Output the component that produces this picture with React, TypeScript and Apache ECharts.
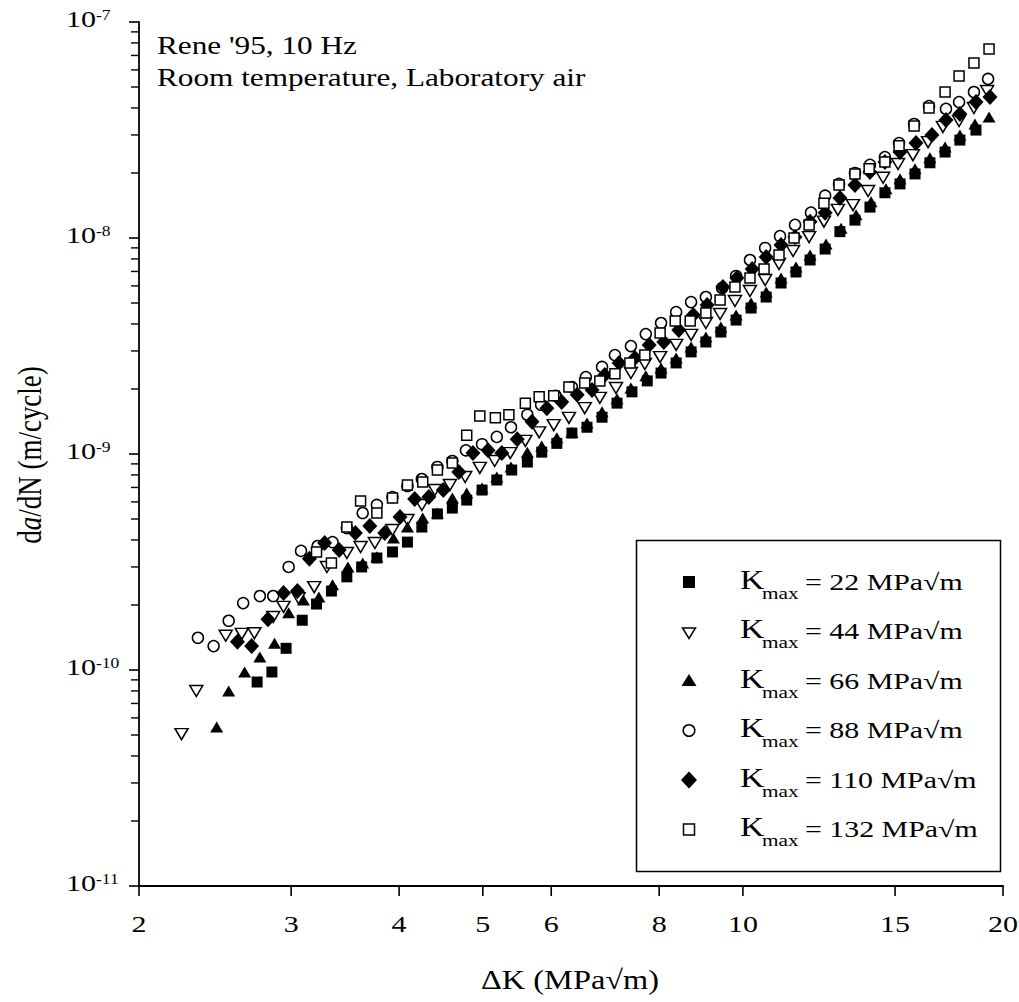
import React, { useEffect, useRef } from 'react';
import * as echarts from 'echarts';

const FONT = "'Liberation Serif', 'Times New Roman', Times, serif";
const SX = 1.25;

// Axis ticks
const xTicks = [2, 3, 4, 5, 6, 8, 10, 15, 20];
const yDecades = [1e-11, 1e-10, 1e-9, 1e-8, 1e-7];
const yDecadeExp = ['-11', '-10', '-9', '-8', '-7'];
const yMinorMantissas = [2, 3, 4, 5, 6, 7, 8, 9];

// Series data: [ΔK (MPa√m), da/dN (m/cycle)]
const k22: [number, number][] = [
  [2.74, 8.8e-11], [2.85, 9.79e-11], [2.96, 1.26e-10], [3.09, 1.7e-10], [3.21, 2.02e-10], [3.34, 2.32e-10],
  [3.48, 2.7e-10], [3.62, 3.0e-10], [3.77, 3.3e-10], [3.93, 3.52e-10], [4.09, 3.91e-10], [4.25, 4.59e-10],
  [4.43, 5.28e-10], [4.61, 5.62e-10], [4.79, 6.12e-10], [4.99, 6.81e-10], [5.19, 7.58e-10], [5.4, 8.43e-10],
  [5.63, 9.18e-10], [5.85, 1.02e-9], [6.09, 1.12e-9], [6.34, 1.25e-9], [6.6, 1.33e-9], [6.87, 1.48e-9],
  [7.15, 1.72e-9], [7.44, 1.94e-9], [7.75, 2.18e-9], [8.04, 2.37e-9], [8.37, 2.64e-9], [8.71, 2.97e-9],
  [9.06, 3.3e-9], [9.43, 3.67e-9], [9.82, 4.17e-9], [10.22, 4.74e-9], [10.64, 5.33e-9], [11.07, 6.19e-9],
  [11.52, 6.96e-9], [11.96, 7.91e-9], [12.45, 8.89e-9], [12.95, 1.07e-8], [13.48, 1.21e-8], [14.03, 1.39e-8],
  [14.6, 1.62e-8], [15.2, 1.78e-8], [15.82, 1.98e-8], [16.46, 2.23e-8], [17.14, 2.5e-8], [17.83, 2.84e-8],
  [18.61, 3.16e-8],
];

const k44: [number, number][] = [
  [2.24, 5.05e-11], [2.33, 7.99e-11], [2.52, 1.44e-10], [2.63, 1.47e-10], [2.72, 1.48e-10], [2.86, 1.76e-10],
  [2.94, 1.96e-10], [3.06, 2.15e-10], [3.19, 2.42e-10], [3.3, 3.0e-10], [3.48, 3.48e-10], [3.61, 3.71e-10],
  [3.75, 3.87e-10], [3.93, 4.45e-10], [4.09, 4.95e-10], [4.25, 5.81e-10], [4.4, 6.81e-10], [4.58, 7.19e-10],
  [4.77, 7.83e-10], [4.96, 8.62e-10], [5.16, 9.28e-10], [5.38, 1.01e-9], [5.6, 1.15e-9], [5.81, 1.26e-9],
  [6.04, 1.36e-9], [6.29, 1.47e-9], [6.56, 1.63e-9], [6.83, 1.82e-9], [7.13, 2.02e-9], [7.42, 2.37e-9],
  [7.7, 2.61e-9], [8.02, 2.81e-9], [8.37, 3.2e-9], [8.71, 3.56e-9], [9.06, 4.04e-9], [9.41, 4.45e-9],
  [9.79, 5.11e-9], [10.19, 5.68e-9], [10.61, 6.39e-9], [11.01, 7.58e-9], [11.43, 8.71e-9], [11.93, 1.01e-8],
  [12.41, 1.19e-8], [12.88, 1.35e-8], [13.41, 1.42e-8], [13.96, 1.65e-8], [14.53, 1.9e-8], [15.12, 2.2e-8],
  [15.73, 2.42e-8], [16.38, 2.78e-8], [17.04, 3.27e-8], [17.79, 3.48e-8], [18.51, 4.0e-8], [19.17, 4.79e-8],
];

const k66: [number, number][] = [
  [2.46, 5.45e-11], [2.54, 7.99e-11], [2.65, 9.79e-11], [2.76, 1.15e-10], [2.87, 1.33e-10], [2.98, 1.84e-10],
  [3.1, 2.11e-10], [3.23, 2.18e-10], [3.35, 2.48e-10], [3.49, 3.0e-10], [3.63, 3.13e-10], [3.77, 3.34e-10],
  [3.94, 4.08e-10], [4.09, 4.59e-10], [4.26, 5.05e-10], [4.43, 5.33e-10], [4.61, 6.26e-10], [4.79, 6.6e-10],
  [4.99, 6.96e-10], [5.19, 7.83e-10], [5.39, 8.71e-10], [5.63, 1.02e-9], [5.85, 1.09e-9], [6.09, 1.19e-9],
  [6.34, 1.26e-9], [6.6, 1.39e-9], [6.87, 1.57e-9], [7.15, 1.8e-9], [7.42, 2.02e-9], [7.72, 2.3e-9],
  [8.04, 2.5e-9], [8.37, 2.78e-9], [8.71, 3.13e-9], [9.06, 3.48e-9], [9.43, 3.87e-9], [9.82, 4.4e-9],
  [10.22, 5.0e-9], [10.64, 5.62e-9], [11.07, 6.53e-9], [11.52, 7.34e-9], [11.96, 8.34e-9], [12.48, 9.38e-9],
  [12.99, 1.11e-8], [13.52, 1.28e-8], [14.07, 1.47e-8], [14.64, 1.69e-8], [15.2, 1.88e-8], [15.82, 2.09e-8],
  [16.46, 2.35e-8], [17.14, 2.64e-8], [17.83, 3.0e-8], [18.56, 3.37e-8], [19.27, 3.63e-8],
];

const k88: [number, number][] = [
  [2.34, 1.41e-10], [2.44, 1.29e-10], [2.54, 1.69e-10], [2.64, 2.04e-10], [2.76, 2.2e-10], [2.86, 2.2e-10],
  [2.98, 3.0e-10], [3.08, 3.56e-10], [3.22, 3.75e-10], [3.35, 3.91e-10], [3.48, 4.54e-10], [3.63, 5.33e-10],
  [3.77, 5.81e-10], [3.93, 6.32e-10], [4.09, 7.11e-10], [4.25, 7.66e-10], [4.43, 8.71e-10], [4.61, 9.28e-10],
  [4.78, 1.04e-9], [4.99, 1.11e-9], [5.19, 1.2e-9], [5.39, 1.33e-9], [5.63, 1.52e-9], [5.84, 1.69e-9],
  [6.07, 1.86e-9], [6.34, 2.04e-9], [6.58, 2.27e-9], [6.87, 2.53e-9], [7.11, 2.87e-9], [7.42, 3.16e-9],
  [7.72, 3.59e-9], [8.04, 4.04e-9], [8.37, 4.54e-9], [8.71, 5.05e-9], [9.06, 5.33e-9], [9.46, 5.87e-9],
  [9.82, 6.67e-9], [10.19, 7.91e-9], [10.61, 8.99e-9], [11.04, 1.02e-8], [11.49, 1.15e-8], [11.99, 1.31e-8],
  [12.45, 1.57e-8], [12.92, 1.78e-8], [13.48, 2.0e-8], [14.03, 2.18e-8], [14.6, 2.37e-8], [15.16, 2.75e-8],
  [15.78, 3.37e-8], [16.42, 4.08e-8], [17.18, 3.96e-8], [17.79, 4.26e-8], [18.51, 4.74e-8], [19.22, 5.45e-8],
];

const k110: [number, number][] = [
  [2.6, 1.35e-10], [2.7, 1.29e-10], [2.82, 1.72e-10], [2.94, 2.27e-10], [3.05, 2.32e-10], [3.15, 3.27e-10],
  [3.28, 3.87e-10], [3.41, 3.59e-10], [3.56, 4.31e-10], [3.7, 4.64e-10], [3.85, 4.31e-10], [4.01, 5.11e-10],
  [4.17, 6.19e-10], [4.33, 6.32e-10], [4.5, 6.81e-10], [4.69, 8.25e-10], [4.87, 1.01e-9], [5.07, 1.04e-9],
  [5.26, 1.01e-9], [5.48, 1.17e-9], [5.7, 1.41e-9], [5.93, 1.63e-9], [6.17, 1.74e-9], [6.43, 1.88e-9],
  [6.69, 1.98e-9], [6.92, 2.32e-9], [7.19, 2.64e-9], [7.5, 2.78e-9], [7.79, 3.2e-9], [8.1, 3.3e-9],
  [8.43, 3.75e-9], [8.76, 4.4e-9], [9.09, 4.9e-9], [9.48, 5.93e-9], [9.84, 6.53e-9], [10.25, 7.19e-9],
  [10.64, 8.17e-9], [11.07, 9.28e-9], [11.49, 1.01e-8], [11.96, 1.19e-8], [12.45, 1.31e-8], [12.95, 1.53e-8],
  [13.48, 1.76e-8], [14.03, 2.02e-8], [14.6, 2.25e-8], [15.2, 2.5e-8], [15.86, 2.75e-8], [16.55, 3.0e-8],
  [17.18, 3.52e-8], [17.83, 3.75e-8], [18.61, 4.26e-8], [19.32, 4.5e-8],
];

const k132: [number, number][] = [
  [3.21, 3.52e-10], [3.34, 3.13e-10], [3.48, 4.59e-10], [3.61, 6.06e-10], [3.77, 5.33e-10], [3.93, 6.26e-10],
  [4.09, 7.19e-10], [4.26, 7.42e-10], [4.43, 8.43e-10], [4.61, 9.08e-10], [4.79, 1.22e-9], [4.96, 1.5e-9],
  [5.17, 1.47e-9], [5.36, 1.52e-9], [5.6, 1.72e-9], [5.81, 1.84e-9], [6.04, 1.86e-9], [6.29, 2.04e-9],
  [6.56, 2.13e-9], [6.83, 2.18e-9], [7.11, 2.35e-9], [7.4, 2.64e-9], [7.7, 2.87e-9], [8.02, 3.63e-9],
  [8.35, 4.13e-9], [8.69, 4.13e-9], [9.06, 4.5e-9], [9.41, 5.16e-9], [9.79, 5.93e-9], [10.19, 6.53e-9],
  [10.58, 7.19e-9], [11.01, 8.34e-9], [11.46, 1.0e-8], [11.93, 1.15e-8], [12.41, 1.45e-8], [12.92, 1.76e-8],
  [13.48, 1.98e-8], [14.0, 2.09e-8], [14.6, 2.25e-8], [15.16, 2.67e-8], [15.78, 3.3e-8], [16.42, 4.0e-8],
  [17.14, 4.74e-8], [17.79, 5.62e-8], [18.51, 6.46e-8], [19.27, 7.5e-8],
];

const legendValues = ['22', '44', '66', '88', '110', '132'];

const X_MIN = 2;
const X_MAX = 20;
const Y_MIN = 1e-11;
const Y_MAX = 1e-7;

function txt(text: string, fontSize: number, align: string, extra: any = {}) {
  return {
    text,
    fontSize,
    fontFamily: FONT,
    fill: '#000',
    align,
    textAlign: align,
    verticalAlign: 'middle',
    textVerticalAlign: 'middle',
    ...extra,
  };
}

function scatter(name: string, data: [number, number][], symbol: string, size: any, filled: boolean, rotate = 0) {
  return {
    type: 'scatter',
    name,
    data,
    symbol,
    symbolSize: size,
    symbolRotate: rotate,
    itemStyle: filled
      ? { color: '#000', borderWidth: 0, opacity: 1 }
      : { color: '#fff', borderColor: '#000', borderWidth: 1.5, opacity: 1 },
    emphasis: { disabled: true },
    z: 3,
  };
}

export default function App() {
  const ref = useRef<HTMLDivElement>(null);

  useEffect(() => {
    const chart = echarts.init(ref.current as HTMLDivElement, null, { renderer: 'svg' });

    const yMinor: number[] = [];
    for (let d = 0; d < yDecades.length - 1; d++) {
      for (const m of yMinorMantissas) yMinor.push(m * yDecades[d]);
    }

    const rowY = [582, 631.5, 681, 730.5, 780, 829.5];
    const mx = 689;
    const legendMarkers = [
      { type: 'rect', shape: { x: mx - 6, y: rowY[0] - 6, width: 12, height: 12 }, style: { fill: '#000' } },
      {
        type: 'polygon',
        shape: { points: [[mx - 6.5, rowY[1] - 3.5], [mx + 6.5, rowY[1] - 3.5], [mx, rowY[1] + 7]] },
        style: { fill: '#fff', stroke: '#000', lineWidth: 1.5 },
      },
      {
        type: 'polygon',
        shape: { points: [[mx, rowY[2] - 7], [mx + 7.5, rowY[2] + 5], [mx - 7.5, rowY[2] + 5]] },
        style: { fill: '#000' },
      },
      { type: 'circle', shape: { cx: mx, cy: rowY[3], r: 5.8 }, style: { fill: '#fff', stroke: '#000', lineWidth: 1.5 } },
      {
        type: 'polygon',
        shape: { points: [[mx, rowY[4] - 8.5], [mx + 8, rowY[4]], [mx, rowY[4] + 8.5], [mx - 8, rowY[4]]] },
        style: { fill: '#000' },
      },
      {
        type: 'rect',
        shape: { x: mx - 5.5, y: rowY[5] - 5.5, width: 11, height: 11 },
        style: { fill: '#fff', stroke: '#000', lineWidth: 1.5 },
      },
    ];

    const legendTexts: any[] = [];
    legendValues.forEach((v, i) => {
      const y = rowY[i];
      legendTexts.push({ type: 'text', x: 740, y: y - 2, scaleX: SX, style: txt('K', 27, 'left') });
      legendTexts.push({ type: 'text', x: 762, y: y + 11, scaleX: SX, style: txt('max', 17, 'left') });
      legendTexts.push({ type: 'text', x: 805, y: y, scaleX: 1.3, style: txt(`= ${v} MPa\u221Am`, 23, 'left') });
    });

    const option: any = {
      animation: false,
      backgroundColor: '#fff',
      grid: { left: 139, right: 16, top: 22, bottom: 116, containLabel: false, outerBoundsMode: 'none' },
      xAxis: {
        type: 'log',
        logBase: 10,
        min: X_MIN,
        max: X_MAX,
        axisLine: { show: true, lineStyle: { color: '#000', width: 1.8 } },
        axisTick: { show: false },
        axisLabel: { show: false },
        splitLine: { show: false },
        minorTick: { show: false },
      },
      yAxis: {
        type: 'log',
        logBase: 10,
        min: Y_MIN,
        max: Y_MAX,
        axisLine: { show: true, lineStyle: { color: '#000', width: 1.8 } },
        axisTick: { show: false },
        axisLabel: { show: false },
        splitLine: { show: false },
        minorTick: { show: false },
      },
      series: [
        // x-axis ticks and labels
        {
          type: 'custom',
          silent: true,
          clip: false,
          z: 5,
          data: xTicks.map((v) => [v, Y_MIN]),
          renderItem: (params: any, api: any) => {
            const v = api.value(0);
            const p = api.coord([v, Y_MIN]);
            return {
              type: 'group',
              children: [
                { type: 'line', shape: { x1: p[0], y1: p[1], x2: p[0], y2: p[1] + 10 }, style: { stroke: '#000', lineWidth: 1.6 } },
                { type: 'text', x: p[0], y: p[1] + 38, scaleX: SX, style: txt(String(v), 24, 'center') },
              ],
            };
          },
        },
        // y-axis major ticks and labels
        {
          type: 'custom',
          silent: true,
          clip: false,
          z: 5,
          data: yDecades.map((v, i) => [X_MIN, v, i]),
          renderItem: (params: any, api: any) => {
            const v = api.value(1);
            const i = api.value(2);
            const p = api.coord([X_MIN, v]);
            return {
              type: 'group',
              children: [
                { type: 'line', shape: { x1: p[0] - 10, y1: p[1], x2: p[0], y2: p[1] }, style: { stroke: '#000', lineWidth: 1.6 } },
                { type: 'text', x: 66, y: p[1] - 2.5, scaleX: SX, style: txt('10', 24, 'left') },
                { type: 'text', x: 96, y: p[1] - 6.5, scaleX: SX, style: txt(yDecadeExp[i], 14, 'left') },
              ],
            };
          },
        },
        // y-axis minor ticks
        {
          type: 'custom',
          silent: true,
          clip: false,
          z: 5,
          data: yMinor.map((v) => [X_MIN, v]),
          renderItem: (params: any, api: any) => {
            const p = api.coord([X_MIN, api.value(1)]);
            return { type: 'line', shape: { x1: p[0] - 8, y1: p[1], x2: p[0], y2: p[1] }, style: { stroke: '#000', lineWidth: 1.4 } };
          },
        },
        scatter('Kmax = 22 MPa√m', k22, 'rect', 11, true),
        scatter('Kmax = 44 MPa√m', k44, 'triangle', [13, 11], false, 180),
        scatter('Kmax = 66 MPa√m', k66, 'triangle', [13, 11], true),
        scatter('Kmax = 88 MPa√m', k88, 'circle', 11, false),
        scatter('Kmax = 110 MPa√m', k110, 'diamond', [15, 16], true),
        scatter('Kmax = 132 MPa√m', k132, 'rect', 10, false),
      ],
      graphic: [
        { type: 'text', x: 157, y: 46, scaleX: SX, style: txt("Rene '95, 10 Hz", 25, 'left') },
        { type: 'text', x: 157, y: 78, scaleX: SX, style: txt('Room temperature, Laboratory air', 25, 'left') },
        { type: 'text', x: 570, y: 979, scaleX: 1.2, style: txt('\u0394K (MPa\u221Am)', 27, 'center') },
        {
          type: 'text',
          x: 30,
          y: 455,
          rotation: Math.PI / 2,
          scaleY: SX,
          style: {
            text: '{n|d}{i|a}{n|/dN (m/cycle)}',
            rich: {
              n: { fontSize: 27, fontFamily: FONT, fill: '#000' },
              i: { fontSize: 27, fontFamily: FONT, fontStyle: 'italic', fill: '#000' },
            },
            fill: '#000',
            align: 'center',
            textAlign: 'center',
            verticalAlign: 'middle',
            textVerticalAlign: 'middle',
          },
        },
        {
          type: 'group',
          z: 100,
          children: [
            {
              type: 'rect',
              shape: { x: 636.5, y: 540.5, width: 364, height: 331 },
              style: { fill: '#fff', stroke: '#000', lineWidth: 1.5 },
            },
            ...legendMarkers,
            ...legendTexts,
          ],
        },
      ],
    };

    chart.setOption(option);
    return () => chart.dispose();
  }, []);

  return (
    <div
      ref={ref}
      style={{ position: 'fixed', left: 0, top: 0, width: 1019, height: 1002, background: '#fff' }}
    />
  );
}
